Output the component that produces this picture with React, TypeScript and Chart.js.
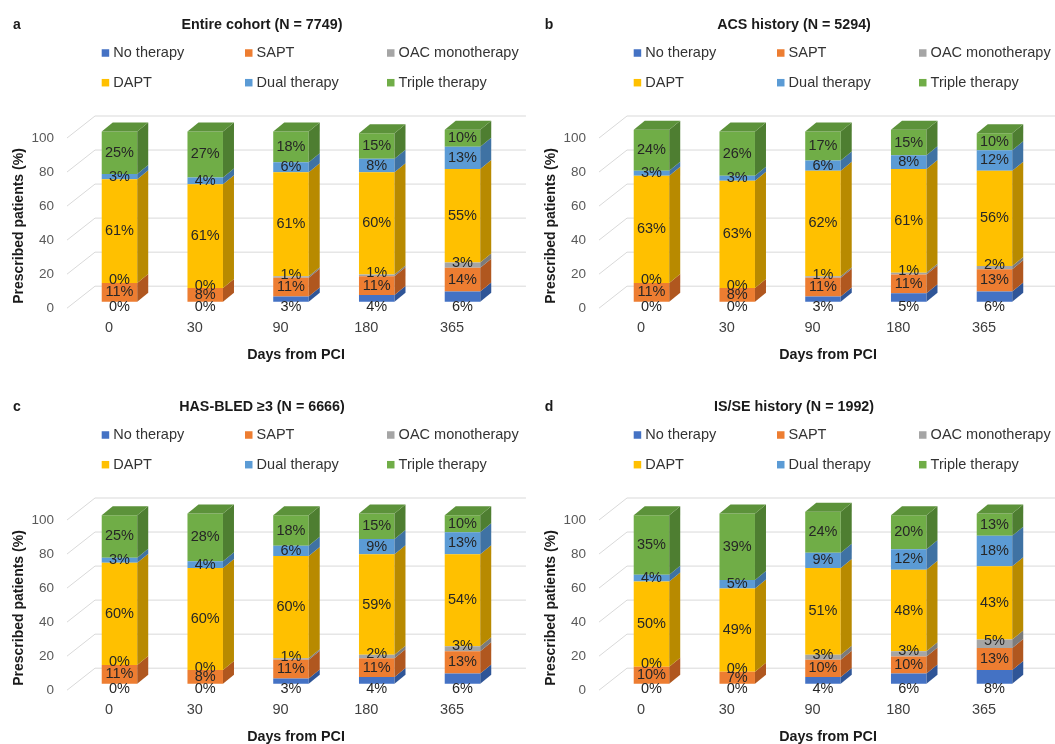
import React, { useEffect, useRef } from 'react';
import { Chart, registerables } from 'chart.js';

Chart.register(...registerables);

// ---------- data ----------
const DAYS = ['0', '30', '90', '180', '365'];
const SERIES = ['No therapy', 'SAPT', 'OAC monotherapy', 'DAPT', 'Dual therapy', 'Triple therapy'];
const Y_MIN = 0;
const Y_MAX = 100;
const Y_STEP = 20;

// a: Entire cohort (N = 7749)
const A_NO_THERAPY = [0, 0, 3, 4, 6];
const A_SAPT = [11, 8, 11, 11, 14];
const A_OAC = [0, 0, 1, 1, 3];
const A_DAPT = [61, 61, 61, 60, 55];
const A_DUAL = [3, 4, 6, 8, 13];
const A_TRIPLE = [25, 27, 18, 15, 10];

// b: ACS history (N = 5294)
const B_NO_THERAPY = [0, 0, 3, 5, 6];
const B_SAPT = [11, 8, 11, 11, 13];
const B_OAC = [0, 0, 1, 1, 2];
const B_DAPT = [63, 63, 62, 61, 56];
const B_DUAL = [3, 3, 6, 8, 12];
const B_TRIPLE = [24, 26, 17, 15, 10];

// c: HAS-BLED ≥3 (N = 6666)
const C_NO_THERAPY = [0, 0, 3, 4, 6];
const C_SAPT = [11, 8, 11, 11, 13];
const C_OAC = [0, 0, 1, 2, 3];
const C_DAPT = [60, 60, 60, 59, 54];
const C_DUAL = [3, 4, 6, 9, 13];
const C_TRIPLE = [25, 28, 18, 15, 10];

// d: IS/SE history (N = 1992)
const D_NO_THERAPY = [0, 0, 4, 6, 8];
const D_SAPT = [10, 7, 10, 10, 13];
const D_OAC = [0, 0, 3, 3, 5];
const D_DAPT = [50, 49, 51, 48, 43];
const D_DUAL = [4, 5, 9, 12, 18];
const D_TRIPLE = [35, 39, 24, 20, 13];

const PANELS = [
  { letter: 'a', title: 'Entire cohort (N = 7749)', series: [A_NO_THERAPY, A_SAPT, A_OAC, A_DAPT, A_DUAL, A_TRIPLE], left: 0, top: 0 },
  { letter: 'b', title: 'ACS history (N = 5294)', series: [B_NO_THERAPY, B_SAPT, B_OAC, B_DAPT, B_DUAL, B_TRIPLE], left: 532, top: 0 },
  { letter: 'c', title: 'HAS-BLED \u22653 (N = 6666)', series: [C_NO_THERAPY, C_SAPT, C_OAC, C_DAPT, C_DUAL, C_TRIPLE], left: 0, top: 382 },
  { letter: 'd', title: 'IS/SE history (N = 1992)', series: [D_NO_THERAPY, D_SAPT, D_OAC, D_DAPT, D_DUAL, D_TRIPLE], left: 532, top: 382 },
];

// ---------- style ----------
const FRONT = ['#4472C4', '#ED7D31', '#A5A5A5', '#FFC000', '#5B9BD5', '#70AD47'];
const SIDE = ['#2F5597', '#B0571F', '#7B7B7B', '#B88A00', '#3F72A3', '#4E7E31'];
const TOP = ['#3A64B0', '#C9682A', '#8F8F8F', '#D9A300', '#4C86BD', '#5C923A'];
const FONT = "'Liberation Sans', Arial, Helvetica, sans-serif";
const W = 532;
const H = 382;
const DEPTH_X = 11;
const DEPTH_Y = 9;

function makePlugin(letter: string, title: string) {
  return {
    id: 'excel3d',
    beforeDatasetsDraw(chart: any) {
      const ctx = chart.ctx;
      const ys = chart.scales.y;
      const ca = chart.chartArea;
      ctx.save();
      ctx.strokeStyle = '#D9D9D9';
      ctx.lineWidth = 1;
      ys.ticks.forEach((t: any) => {
        const yf = ys.getPixelForValue(t.value) + 6.5;
        ctx.beginPath();
        ctx.moveTo(ca.left - 9.6, yf);
        ctx.lineTo(ca.left + 18.4, yf - 22);
        ctx.lineTo(ca.right + 20.6, yf - 22);
        ctx.stroke();
      });
      ctx.restore();
    },
    afterDatasetsDraw(chart: any) {
      const ctx = chart.ctx;
      const n = chart.data.datasets.length;
      ctx.save();
      // side faces
      for (let d = 0; d < n; d++) {
        const meta = chart.getDatasetMeta(d);
        meta.data.forEach((bar: any) => {
          const { x, y, base, width } = bar.getProps(['x', 'y', 'base', 'width'], true);
          if (Math.abs(base - y) < 0.01) return;
          const r = x + width / 2;
          ctx.fillStyle = SIDE[d];
          ctx.beginPath();
          ctx.moveTo(r, y);
          ctx.lineTo(r + DEPTH_X, y - DEPTH_Y);
          ctx.lineTo(r + DEPTH_X, base - DEPTH_Y);
          ctx.lineTo(r, base);
          ctx.closePath();
          ctx.fill();
        });
      }
      // top faces
      const count = chart.data.labels.length;
      for (let i = 0; i < count; i++) {
        let topY = Infinity;
        let topD = -1;
        let bx = 0;
        let bw = 0;
        for (let d = 0; d < n; d++) {
          const bar = chart.getDatasetMeta(d).data[i];
          const { x, y, base, width } = bar.getProps(['x', 'y', 'base', 'width'], true);
          if (Math.abs(base - y) < 0.01) continue;
          if (y < topY) { topY = y; topD = d; bx = x; bw = width; }
        }
        if (topD < 0) continue;
        const l = bx - bw / 2;
        const r = bx + bw / 2;
        ctx.fillStyle = TOP[topD];
        ctx.beginPath();
        ctx.moveTo(l, topY);
        ctx.lineTo(l + DEPTH_X, topY - DEPTH_Y);
        ctx.lineTo(r + DEPTH_X, topY - DEPTH_Y);
        ctx.lineTo(r, topY);
        ctx.closePath();
        ctx.fill();
      }
      // data labels
      ctx.font = `14.5px ${FONT}`;
      ctx.fillStyle = '#262626';
      ctx.textAlign = 'center';
      ctx.textBaseline = 'middle';
      for (let d = 0; d < n; d++) {
        const meta = chart.getDatasetMeta(d);
        const vals = chart.data.datasets[d].data;
        meta.data.forEach((bar: any, i: number) => {
          const { x, y, base } = bar.getProps(['x', 'y', 'base'], true);
          let ly = (y + base) / 2;
          if (d === 0) ly = base + 5.5;
          if (d === 2) ly -= 2.5;
          ctx.fillText(`${vals[i]}%`, x, ly);
        });
      }
      ctx.restore();
    },
    afterDraw(chart: any) {
      const ctx = chart.ctx;
      ctx.save();
      ctx.textBaseline = 'middle';
      // panel letter + title
      ctx.fillStyle = '#1a1a1a';
      ctx.font = `bold 14px ${FONT}`;
      ctx.textAlign = 'center';
      ctx.fillText(letter, 17, 25);
      ctx.font = `bold 14.3px ${FONT}`;
      ctx.fillText(title, 262, 25);
      // legend (3 columns x 2 rows)
      const cols = [101.7, 245, 387];
      const rows = [53, 82.7];
      ctx.font = `14.5px ${FONT}`;
      ctx.textAlign = 'left';
      chart.data.datasets.forEach((ds: any, k: number) => {
        const cx = cols[k % 3];
        const cy = rows[Math.floor(k / 3)];
        ctx.fillStyle = ds.backgroundColor;
        ctx.fillRect(cx, cy - 3.75, 7.5, 7.5);
        ctx.fillStyle = '#333333';
        ctx.fillText(ds.label, cx + 11.6, cy);
      });
      // axis titles
      ctx.fillStyle = '#1a1a1a';
      ctx.font = `bold 14.3px ${FONT}`;
      ctx.textAlign = 'center';
      ctx.fillText('Days from PCI', 296, 355);
      ctx.translate(19.5, 226);
      ctx.rotate(-Math.PI / 2);
      ctx.font = `bold 14px ${FONT}`;
      ctx.fillText('Prescribed patients (%)', 0, 0);
      ctx.restore();
    },
  };
}

function Panel({ cfg }: { cfg: (typeof PANELS)[number] }) {
  const ref = useRef<HTMLCanvasElement | null>(null);
  useEffect(() => {
    if (!ref.current) return;
    const chart = new Chart(ref.current, {
      type: 'bar',
      data: {
        labels: DAYS,
        datasets: SERIES.map((name, k) => ({
          label: name,
          data: cfg.series[k],
          backgroundColor: FRONT[k],
          borderWidth: 0,
          barPercentage: 0.414,
          categoryPercentage: 1,
          clip: false as any,
        })),
      },
      options: {
        responsive: false,
        maintainAspectRatio: false,
        animation: false,
        events: [],
        layout: { padding: { left: 0, right: W - 505.35, top: 131.5, bottom: H - 301.7 - 40 } },
        plugins: {
          legend: { display: false },
          title: { display: false },
          tooltip: { enabled: false },
        },
        scales: {
          x: {
            stacked: true,
            grid: { display: false, drawTicks: false },
            border: { display: false },
            ticks: {
              padding: 17.6,
              labelOffset: -10.5,
              color: '#404040',
              font: { family: FONT, size: 14.5 },
              maxRotation: 0,
              autoSkip: false,
            },
            afterFit: (s: any) => { s.height = 40; },
          },
          y: {
            stacked: true,
            min: Y_MIN,
            max: Y_MAX,
            grid: { display: false, drawTicks: false },
            border: { display: false },
            ticks: {
              stepSize: Y_STEP,
              padding: 22.6,
              labelOffset: 6.5,
              color: '#595959',
              font: { family: FONT, size: 13.5 },
            },
            afterFit: (s: any) => { s.width = 76.6; },
          },
        },
      },
      plugins: [makePlugin(cfg.letter, cfg.title)],
    });
    return () => chart.destroy();
  }, [cfg]);
  return (
    <canvas
      ref={ref}
      width={W}
      height={H}
      style={{ position: 'absolute', left: cfg.left, top: cfg.top, width: W, height: H }}
    />
  );
}

export default function App() {
  return (
    <div
      style={{
        position: 'fixed',
        left: 0,
        top: 0,
        width: 1055,
        height: 744,
        overflow: 'hidden',
        background: '#ffffff',
      }}
    >
      {PANELS.map((p) => (
        <Panel key={p.letter} cfg={p} />
      ))}
    </div>
  );
}
